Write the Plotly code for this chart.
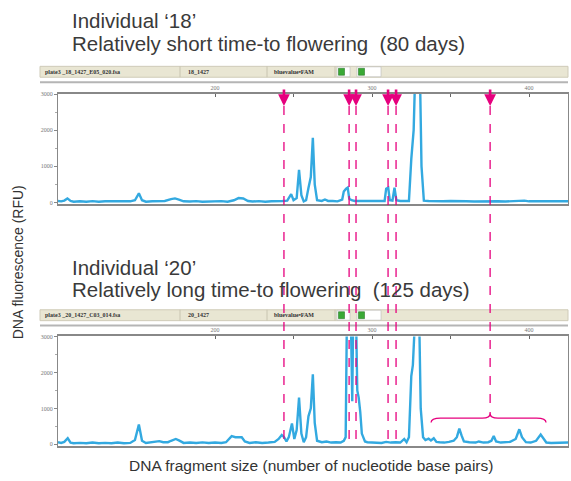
import plotly.graph_objects as go

W, H = 571, 481

# ---------------- data (bp, RFU) ----------------
top_bp = [100, 102, 104, 106, 108, 110, 114, 118, 122, 126, 130, 134, 138, 142, 146, 149, 151.5, 153.5,
          156, 160, 164, 168, 172, 174.5, 177, 180, 184, 188, 192, 196, 200, 204, 208, 212, 215, 218,
          221, 224, 228, 232, 236, 240, 243, 246, 248.5, 250, 252, 253.5, 255, 256.5, 258, 259.5, 261,
          262.3, 263.5, 265, 268, 270, 272, 275, 278, 281, 282, 283.5, 284.5, 285.5, 287, 289, 292, 296,
          300, 304, 308, 309, 310.3, 311.3, 313, 314.3, 315.5, 318, 321, 323.5, 325, 326.5, 327.5, 330.5,
          331.5, 333, 336, 340, 345, 350, 355, 360, 365, 370, 375, 380, 385, 390, 395, 397, 400, 405,
          410, 415, 420, 425]
top_rfu = [40, 30, 50, 110, 40, 20, 30, 20, 35, 20, 30, 25, 40, 20, 30, 60, 250, 60,
           20, 30, 25, 40, 90, 110, 80, 30, 25, 35, 20, 30, 25, 35, 20, 60, 120, 110,
           40, 25, 35, 20, 30, 25, 40, 50, 230, 60, 120, 900, 200, 30, 60, 400, 700,
           1790, 500, 60, 40, 80, 40, 40, 30, 80, 300, 380, 410, 100, 60, 40, 40, 30,
           40, 30, 40, 380, 410, 60, 50, 410, 60, 40, 30, 40, 1200, 2000, 3600, 3600,
           1000, 50, 40, 30, 30, 40, 25, 30, 25, 30, 40, 30, 25, 40, 60, 50, 30, 25,
           35, 25, 30, 30]

bot_bp = [100, 102, 104, 106.2, 108, 110, 114, 118, 122, 126, 130, 134, 138, 142, 146, 149, 151.5, 153.5,
          156, 160, 164.5, 167, 170, 172, 175, 177, 180, 184, 188, 192, 196, 200, 204, 207, 209, 210.6,
          213, 215, 217, 219, 222, 226, 230, 234, 238, 240.5, 242.5, 244, 245.5, 247, 249, 250.5, 252,
          253.5, 255, 256.5, 258, 259.5, 261, 262.3, 263.5, 265, 268, 271, 274, 277, 280, 282, 283.2,
          284, 286.5, 287.4, 288, 289.8, 290.6, 291.5, 292.5, 293.5, 294.5, 295.5, 297, 300, 303, 306,
          309, 312, 315, 318, 320.5, 322, 323.5, 325, 326, 327.5, 330, 331, 332.5, 334, 336, 337.5,
          339.3, 341, 343, 346, 349, 352, 354, 355.6, 357, 358.5, 362, 366, 368, 371, 374, 376, 377.5,
          379, 382, 385, 388, 391.5, 393.8, 395.5, 398, 401, 404.5, 407.4, 409.5, 411, 414, 418, 422, 425]
bot_rfu = [60, 40, 70, 170, 50, 30, 40, 30, 50, 30, 40, 30, 50, 30, 40, 120, 550, 100,
           40, 70, 90, 60, 60, 100, 150, 110, 40, 50, 40, 55, 40, 50, 40, 60, 150, 230,
           200, 190, 200, 80, 40, 60, 40, 50, 70, 150, 260, 200, 80, 200, 580, 150, 400,
           1300, 300, 60, 200, 780, 1000, 1950, 600, 100, 60, 80, 50, 60, 50, 100, 200,
           3600, 3600, 1200, 3600, 3600, 1500, 1300, 900, 300, 170, 80, 60, 50, 60, 40,
           70, 50, 60, 50, 150, 60, 200, 1900, 2200, 3600, 3600, 1000, 200, 120, 160, 110,
           170, 70, 60, 50, 70, 100, 200, 440, 250, 80, 60, 50, 80, 50, 60, 100, 230,
           80, 50, 60, 70, 150, 420, 200, 60, 50, 100, 270, 150, 50, 40, 50, 40, 50]

marker_bp = [243.9, 285.4, 289.8, 310.2, 315.3, 375.2]
marker_end_px = [445, 445, 445, 441, 441, 415]
brace_bp = [337.6, 375.2, 410.8]

titles_top = ["Individual \u201818\u2019", "Relatively short time-to flowering  (80 days)"]
titles_bot = ["Individual \u201820\u2019", "Relatively long time-to flowering  (125 days)"]
header_top = ["plate3 _18_1427_E05_020.fsa", "18_1427", "bluevalue\u2022FAM"]
header_bot = ["plate3 _20_1427_C03_014.fsa", "20_1427", "bluevalue\u2022FAM"]
xtick_vals = [200, 250, 300, 350, 400]
xtick_text = ["200", "", "300", "", "400"]
ytick_vals = [0, 1000, 2000, 3000]

X_RANGE = [100, 424.8]
BLUE = "#33a9e0"
MAG = "#e6007e"


def px(x):
    return x / W


def py(y):
    return 1 - y / H


fig = go.Figure()
fig.add_trace(go.Scatter(x=top_bp, y=top_rfu, mode="lines", xaxis="x", yaxis="y",
                         line=dict(color=BLUE, width=2.4), hoverinfo="skip"))
fig.add_trace(go.Scatter(x=bot_bp, y=bot_rfu, mode="lines", xaxis="x2", yaxis="y2",
                         line=dict(color=BLUE, width=2.4), hoverinfo="skip"))

axis_font = dict(family="Liberation Serif", size=6, color="#777")
xcommon = dict(range=X_RANGE, side="top", showline=True, linecolor="#888", linewidth=1.5,
               mirror=True, showgrid=False, zeroline=False, ticks="inside", ticklen=3,
               tickcolor="#666", tickvals=xtick_vals, ticktext=xtick_text, tickfont=axis_font,
               fixedrange=True)
ycommon = dict(showline=True, linecolor="#888", linewidth=1.2, mirror=True, showgrid=False,
               zeroline=False, ticks="outside", ticklen=3, tickcolor="#888", tickvals=ytick_vals,
               tickfont=axis_font, minor=dict(tickvals=[500, 1500, 2500], ticklen=2, tickcolor="#aaa", ticks="outside"),
               fixedrange=True)

fig.update_layout(
    width=W, height=H, margin=dict(l=0, r=0, t=0, b=0),
    paper_bgcolor="white", plot_bgcolor="white", showlegend=False,
    xaxis=dict(domain=[px(58), px(568)], anchor="y", **xcommon),
    yaxis=dict(domain=[py(203), py(92)], range=[-41, 3000], anchor="x", **ycommon),
    xaxis2=dict(domain=[px(58), px(568)], anchor="y2", **xcommon),
    yaxis2=dict(domain=[py(448), py(337)], range=[-55, 3000], anchor="x2", **ycommon),
)

shapes = []
annotations = []

# header bars
for ytop, texts in [(64, header_top), (310, header_bot)]:
    ybot = ytop + 11
    shapes.append(dict(type="rect", xref="paper", yref="paper", x0=px(40), x1=px(568),
                       y0=py(ybot), y1=py(ytop), fillcolor="#e9e6d3", line=dict(color="#cfcbb8", width=1),
                       layer="below"))
    for sx in [180, 267, 335]:
        shapes.append(dict(type="line", xref="paper", yref="paper", x0=px(sx), x1=px(sx),
                           y0=py(ybot), y1=py(ytop), line=dict(color="#c8c4b0", width=1)))
    for bx0, bx1 in [(337, 350), (357, 381)]:
        shapes.append(dict(type="rect", xref="paper", yref="paper", x0=px(bx0), x1=px(bx1),
                           y0=py(ybot - 0.5), y1=py(ytop + 0.5), fillcolor="white",
                           line=dict(color="#bbb", width=0.6)))
        shapes.append(dict(type="rect", xref="paper", yref="paper", x0=px(bx0 + 1.5), x1=px(bx0 + 7.5),
                           y0=py(ybot - 2), y1=py(ytop + 2), fillcolor="#39a935",
                           line=dict(color="#2c7a2a", width=0.6)))
    shapes.append(dict(type="line", xref="paper", yref="paper", x0=px(40), x1=px(568),
                       y0=py(ytop + 16), y1=py(ytop + 16), line=dict(color="#b5b5b5", width=2)))
    for tx, t in zip([43, 186, 272], texts):
        annotations.append(dict(text="<b>%s</b>" % t, xref="paper", yref="paper", x=px(tx), y=py(ytop + 5.5),
                                xanchor="left", yanchor="middle", showarrow=False,
                                font=dict(family="Liberation Serif", size=6, color="#333")))

# titles
title_font = dict(family="Liberation Sans", size=20.5, color="#3a3a3a")
for (y1, y2), texts in [((18, 41), titles_top), ((267, 290), titles_bot)]:
    for yy, t in zip([y1, y2], texts):
        annotations.append(dict(text=t, xref="paper", yref="paper", x=px(70), y=py(yy),
                                xanchor="left", yanchor="middle", showarrow=False, font=title_font))

# marker lines + arrows
for bp, yend in zip(marker_bp, marker_end_px):
    shapes.append(dict(type="line", xref="x", yref="paper", x0=bp, x1=bp, y0=py(104), y1=py(yend),
                       line=dict(color=MAG, width=1.3, dash="dash")))
    annotations.append(dict(text="", xref="x", yref="paper", x=bp, y=py(104), ax=0, ay=-18,
                            showarrow=True, arrowhead=2, arrowsize=0.9, arrowwidth=2.6,
                            arrowcolor=MAG))

# brace (bottom panel)
bl, bc, br = brace_bp
ytip, ymid, ycusp = py(424), py(419.5), py(414.5)
path = ("M {bl},{ytip} Q {bl},{ymid} {a},{ymid} L {b},{ymid} Q {bc},{ymid} {bc},{ycusp} "
        "Q {bc},{ymid} {c},{ymid} L {d},{ymid} Q {br},{ymid} {br},{ytip}").format(
    bl=bl, br=br, bc=bc, a=bl + 6, b=bc - 5, c=bc + 5, d=br - 6, ytip=ytip, ymid=ymid, ycusp=ycusp)
shapes.append(dict(type="path", xref="x", yref="paper", path=path, line=dict(color=MAG, width=1.3)))

# axis labels
annotations.append(dict(text="DNA fluorescence (RFU)", xref="paper", yref="paper", x=px(18), y=py(262),
                        textangle=-90, showarrow=False, xanchor="center", yanchor="middle",
                        font=dict(family="Liberation Sans", size=14, color="#333")))
annotations.append(dict(text="DNA fragment size (number of nucleotide base pairs)", xref="paper", yref="paper",
                        x=px(311), y=py(467), showarrow=False, xanchor="center", yanchor="middle",
                        font=dict(family="Liberation Sans", size=15.5, color="#333")))

fig.update_layout(shapes=shapes, annotations=annotations)
fig.write_html("out.html", config={"displayModeBar": False},
               post_script="document.body.style.margin='0';document.body.style.padding='0';")
